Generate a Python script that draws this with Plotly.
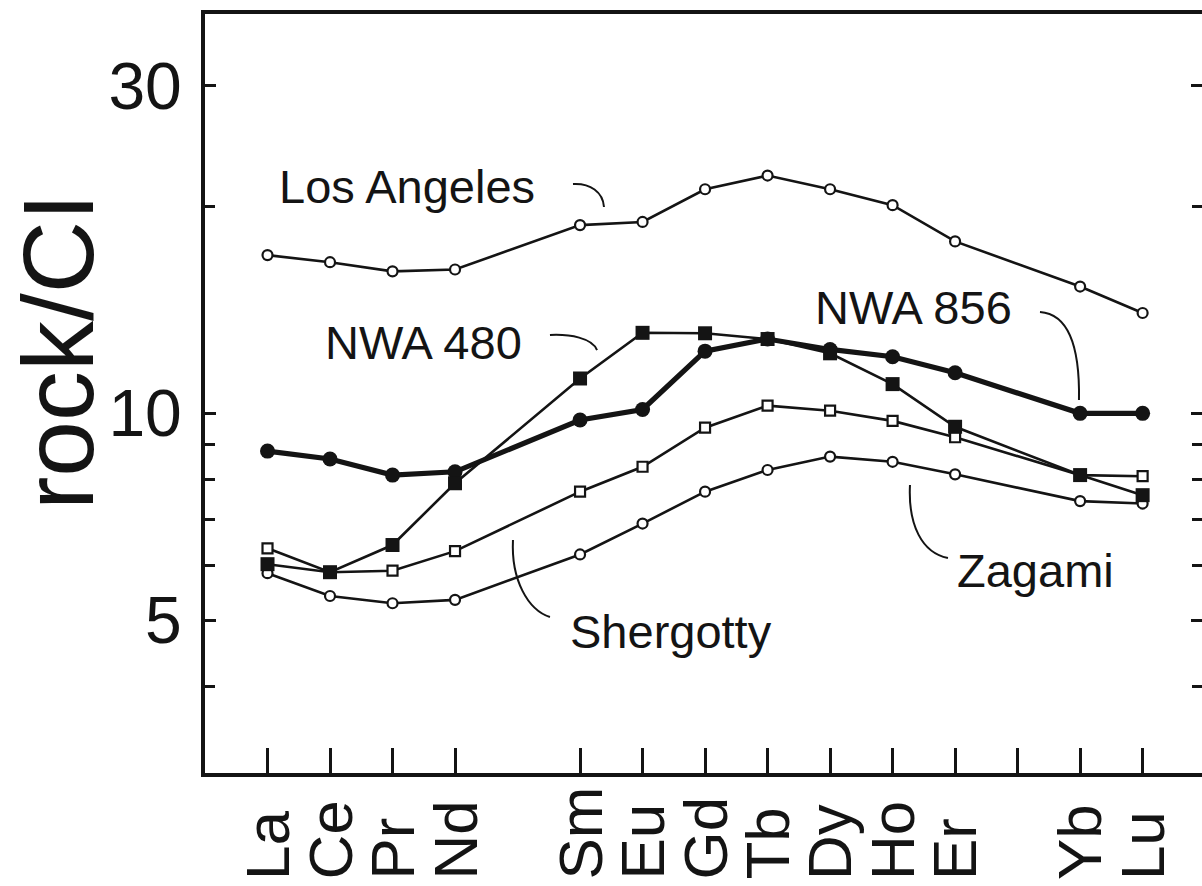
import math
import plotly.graph_objects as go

# Rare earth elements (Pm omitted) and their atomic numbers
elements = ["La", "Ce", "Pr", "Nd", "Sm", "Eu", "Gd", "Tb", "Dy", "Ho", "Er", "Yb", "Lu"]
atomic_numbers = [57, 58, 59, 60, 62, 63, 64, 65, 66, 67, 68, 70, 71]

# Tick positions on the element axis (Tm gets a tick but no label)
tick_positions = [57, 58, 59, 60, 62, 63, 64, 65, 66, 67, 68, 69, 70, 71]

# CI-normalised REE abundances
los_angeles = [17.0, 16.6, 16.1, 16.2, 18.8, 19.0, 21.2, 22.2, 21.2, 20.1, 17.8, 15.3, 14.0]
nwa_856 = [8.81, 8.58, 8.13, 8.22, 9.78, 10.13, 12.32, 12.83, 12.39, 12.09, 11.46, 10.0, 10.0]
nwa_480 = [6.03, 5.87, 6.43, 7.91, 11.24, 13.10, 13.08, 12.83, 12.23, 11.03, 9.56, 8.13, 7.60]
shergotty = [6.36, 5.87, 5.90, 6.30, 7.69, 8.36, 9.53, 10.26, 10.09, 9.75, 9.23, 8.13, 8.10]
zagami = [5.85, 5.42, 5.29, 5.35, 6.23, 6.91, 7.69, 8.27, 8.65, 8.50, 8.15, 7.45, 7.39]

# y-axis ticks
y_major = [5, 10, 30]
y_major_text = ["5", "10", "30"]
y_minor = [4, 6, 7, 8, 9, 20]

INK = "#141414"
FONT = "Liberation Sans, Arial, Helvetica, sans-serif"

W, H = 1202, 886
L, R, T, B = 205, 0, 14, 113
PW, PH = W - L - R, H - T - B


def px(x):
    return (x - L) / PW


def py(y):
    return (H - B - y) / PH


fig = go.Figure()


def add_series(values, symbol, size, fill, line_w, marker_line_w):
    fig.add_trace(go.Scatter(
        x=atomic_numbers, y=values, mode="lines+markers",
        line=dict(color=INK, width=line_w),
        marker=dict(symbol=symbol, size=size, color=fill,
                    line=dict(color=INK, width=marker_line_w)),
        showlegend=False, hoverinfo="skip",
    ))


add_series(los_angeles, "circle", 10, "white", 2.6, 2.2)
add_series(zagami, "circle", 10, "white", 2.6, 2.2)
add_series(shergotty, "square", 10, "white", 2.6, 2.2)
add_series(nwa_856, "circle", 15, INK, 5.2, 0)
add_series(nwa_480, "square", 14, INK, 2.6, 0)

# invisible companion trace so the right-hand tick axis is rendered
fig.add_trace(go.Scatter(x=atomic_numbers[:1], y=nwa_856[:1], yaxis="y2",
                         mode="markers", marker=dict(opacity=0),
                         showlegend=False, hoverinfo="skip"))

y_range = [0.4762, 1.5816]

tick_common = dict(
    type="log", range=y_range, tickmode="array", tickvals=y_major,
    ticks="inside", ticklen=11, tickwidth=3, tickcolor=INK,
    showgrid=False, zeroline=False,
    minor=dict(tickmode="array", tickvals=y_minor, ticks="inside",
               ticklen=10, tickwidth=3, tickcolor=INK, showgrid=False),
)

fig.update_layout(
    width=W, height=H,
    margin=dict(l=L, r=R, t=T, b=B, pad=0),
    paper_bgcolor="white", plot_bgcolor="white",
    xaxis=dict(
        range=[56, 71.95], tickmode="array", tickvals=tick_positions,
        showticklabels=False, ticks="inside", ticklen=25, tickwidth=3,
        tickcolor=INK, showline=True, linewidth=4, linecolor=INK,
        mirror=True, showgrid=False, zeroline=False,
    ),
    yaxis=dict(
        **tick_common, ticktext=y_major_text,
        showline=True, linewidth=4, linecolor=INK,
        tickfont=dict(family=FONT, size=66, color=INK),
        ticklabelstandoff=6,
    ),
    yaxis2=dict(
        **tick_common, overlaying="y", side="right",
        showticklabels=False, showline=False,
    ),
)

# longer tick marks at 10 on both sides
fig.add_shape(type="line", xref="paper", yref="y", x0=0, x1=20 / PW,
              y0=math.log10(10), y1=math.log10(10),
              line=dict(color=INK, width=3))
fig.add_shape(type="line", xref="paper", yref="y", x0=1 - 22 / PW, x1=1,
              y0=math.log10(10), y1=math.log10(10),
              line=dict(color=INK, width=3))

# break in the Zagami line where the Shergotty leader crosses
i_nd, i_sm = elements.index("Nd"), elements.index("Sm")
x_a, x_b = 60.64, 61.44


def zag_log(x):
    t = (x - atomic_numbers[i_nd]) / (atomic_numbers[i_sm] - atomic_numbers[i_nd])
    return math.log10(zagami[i_nd]) + t * (math.log10(zagami[i_sm]) - math.log10(zagami[i_nd]))


fig.add_shape(type="line", xref="x", yref="y", x0=x_a, x1=x_b,
              y0=zag_log(x_a), y1=zag_log(x_b),
              line=dict(color="white", width=8), layer="above")


def leader(points):
    p = points
    d = "M {:.4f},{:.4f} C {:.4f},{:.4f} {:.4f},{:.4f} {:.4f},{:.4f}".format(
        px(p[0][0]), py(p[0][1]), px(p[1][0]), py(p[1][1]),
        px(p[2][0]), py(p[2][1]), px(p[3][0]), py(p[3][1]))
    fig.add_shape(type="path", xref="paper", yref="paper", path=d,
                  line=dict(color=INK, width=2), layer="above")


leader([(573, 184), (590, 183), (603, 192), (604, 207)])
leader([(550, 335), (570, 334), (592, 338), (597, 350)])
leader([(1040, 312), (1068, 314), (1080, 345), (1079, 400)])
leader([(513, 540), (511, 580), (528, 610), (550, 617)])
leader([(910, 485), (908, 525), (922, 553), (948, 558)])

# sample labels
labels = [
    ("Los Angeles", 277, 186),
    ("NWA 480", 323, 342),
    ("NWA 856", 813, 307),
    ("Shergotty", 568, 631),
    ("Zagami", 955, 570),
]
for text, lx, ly in labels:
    fig.add_annotation(text=text, xref="paper", yref="paper", x=px(lx), y=py(ly),
                       xanchor="left", yanchor="middle", showarrow=False,
                       font=dict(family=FONT, size=47, color=INK))

# element labels, bottom aligned under the ticks
for el, z in zip(elements, atomic_numbers):
    fig.add_annotation(text=el, xref="x", yref="paper", x=z, y=py(882),
                       xanchor="center", yanchor="bottom", textangle=-90,
                       showarrow=False,
                       font=dict(family=FONT, size=62, color=INK))

# y-axis title
fig.add_annotation(text="rock/CI", xref="paper", yref="paper", x=px(58), y=py(352),
                   xanchor="center", yanchor="middle", textangle=-90,
                   showarrow=False, font=dict(family=FONT, size=100, color=INK))

fig.write_html("out.html")
